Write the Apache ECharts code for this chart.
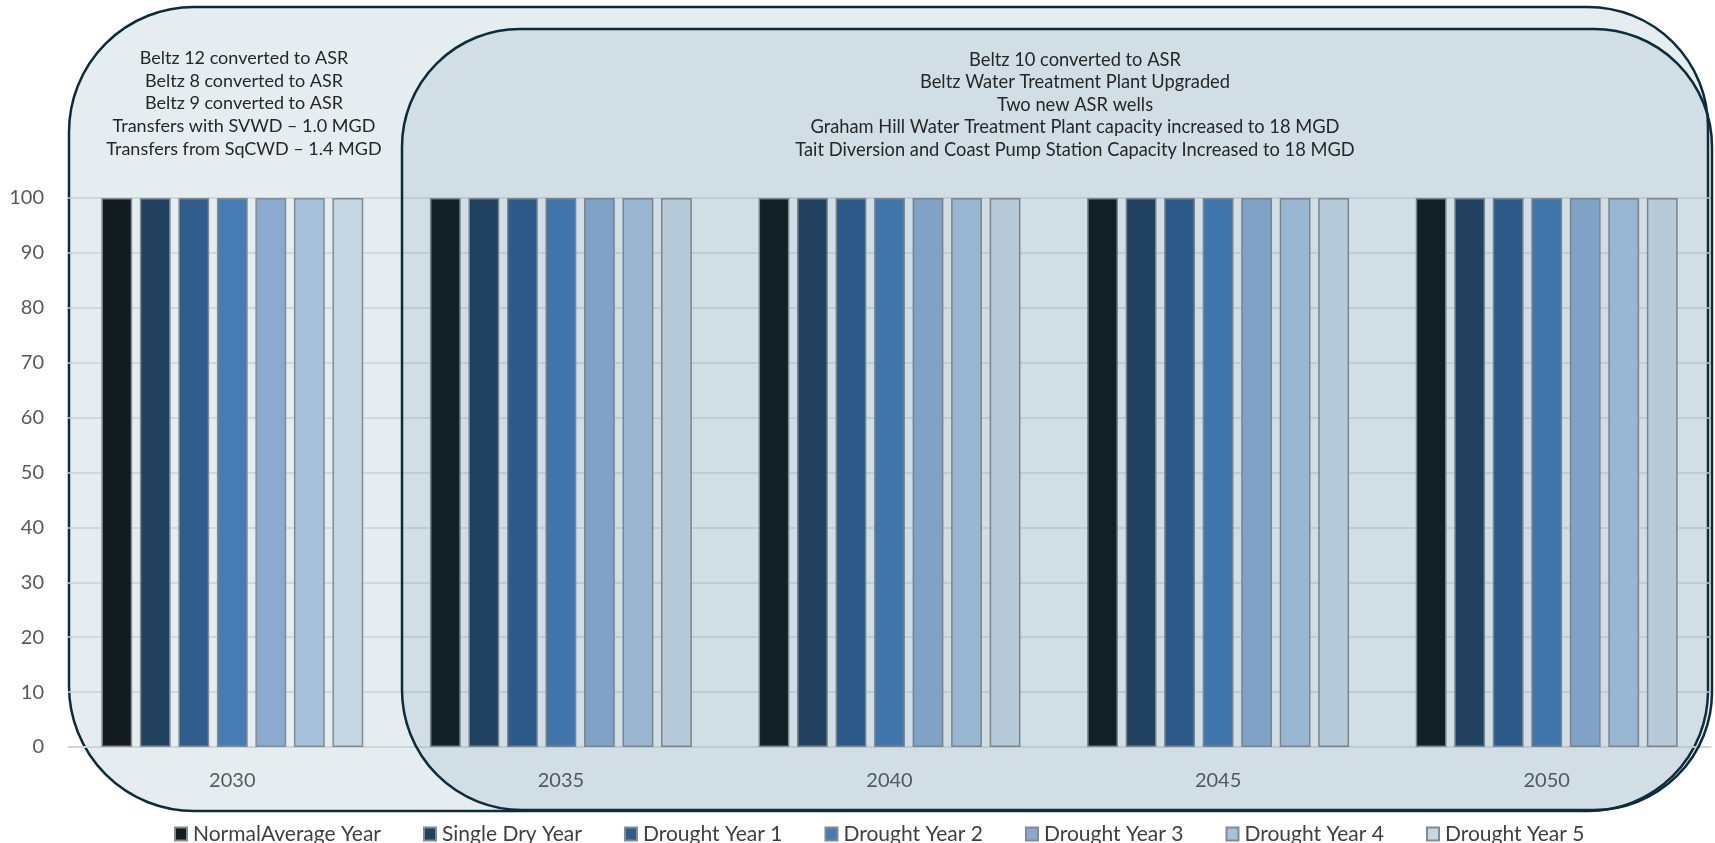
<!DOCTYPE html>
<html>
<head>
<meta charset="utf-8">
<script src="https://cdn.jsdelivr.net/npm/echarts@6/dist/echarts.min.js"></script>
<style>
  html, body { margin: 0; padding: 0; background: #ffffff; }
  #chart { width: 1715px; height: 843px; }
</style>
</head>
<body>
<div id="chart"></div>
<script>
// Planning years on the category axis
const years = ['2030', '2035', '2040', '2045', '2050'];

// Supply reliability (%) per hydrologic condition
const normalAverageYear = [100, 100, 100, 100, 100];
const singleDryYear     = [100, 100, 100, 100, 100];
const droughtYear1      = [100, 100, 100, 100, 100];
const droughtYear2      = [100, 100, 100, 100, 100];
const droughtYear3      = [100, 100, 100, 100, 100];
const droughtYear4      = [100, 100, 100, 100, 100];
const droughtYear5      = [100, 100, 100, 100, 100];

const seriesNames = [
  'NormalAverage Year', 'Single Dry Year', 'Drought Year 1', 'Drought Year 2',
  'Drought Year 3', 'Drought Year 4', 'Drought Year 5'
];
const seriesValues = [
  normalAverageYear, singleDryYear, droughtYear1, droughtYear2,
  droughtYear3, droughtYear4, droughtYear5
];

// Value axis range and step
const yMin = 0;
const yMax = 100;
const yStep = 10;

// Projects in place by 2030
const notes2030 = [
  'Beltz 12 converted to ASR',
  'Beltz 8 converted to ASR',
  'Beltz 9 converted to ASR',
  'Transfers with SVWD \u2013 1.0 MGD',
  'Transfers from SqCWD \u2013 1.4 MGD'
];
// Projects added from 2035 onward
const notesLater = [
  'Beltz 10 converted to ASR',
  'Beltz Water Treatment Plant Upgraded',
  'Two new ASR wells',
  'Graham Hill Water Treatment Plant capacity increased to 18 MGD',
  'Tait Diversion and Coast Pump Station Capacity Increased to 18 MGD'
];

const palette = ['#111B20', '#22405F', '#305C8B', '#467BB4', '#8AABCF', '#A7C1DC', '#C6D7E4'];
const FONT = 'Lato, "Open Sans", sans-serif';
const BORDER = '#0E2B3B';

const chart = echarts.init(document.getElementById('chart'), null, { renderer: 'canvas' });

const series = seriesNames.map((name, i) => ({
  name: name,
  type: 'bar',
  data: seriesValues[i],
  barGap: '25%',
  barCategoryGap: '20.3%',
  itemStyle: { color: palette[i], borderColor: '#838A90', borderWidth: 1.5 },
  emphasis: { disabled: true }
}));

chart.setOption({
  animation: false,
  backgroundColor: '#ffffff',
  color: palette,
  grid: { left: 68, right: 4, top: 198, bottom: 96, containLabel: false },
  xAxis: {
    type: 'category',
    data: years,
    axisTick: { show: false },
    axisLine: { lineStyle: { color: '#CDD3D7', width: 1.5 } },
    axisLabel: { color: '#595959', fontFamily: FONT, fontSize: 20, margin: 24 }
  },
  yAxis: {
    type: 'value',
    min: yMin,
    max: yMax,
    interval: yStep,
    axisLine: { show: false },
    axisTick: { show: false },
    splitLine: { lineStyle: { color: '#C9D0D4', width: 1.5 } },
    axisLabel: { color: '#595959', fontFamily: FONT, fontSize: 20, margin: 24 }
  },
  legend: {
    left: 169,
    top: 816,
    itemWidth: 12,
    itemHeight: 13,
    itemGap: 42,
    icon: 'rect',
    selectedMode: false,
    textStyle: { color: '#404040', fontFamily: FONT, fontSize: 21, lineHeight: 26, padding: [0, 0, 0, 1] },
    data: seriesNames
  },
  graphic: [
    {
      type: 'rect',
      z: -10,
      silent: true,
      shape: { x: 69, y: 7, width: 1639, height: 804, r: [125, 120, 120, 125] },
      style: { fill: '#E5EDF1', stroke: BORDER, lineWidth: 2.5 }
    },
    {
      type: 'rect',
      z: 50,
      silent: true,
      shape: { x: 402, y: 29, width: 1310, height: 781, r: [118, 118, 118, 120] },
      style: { fill: 'rgba(20,80,115,0.09)', stroke: BORDER, lineWidth: 2.5 }
    },
    {
      type: 'text',
      z: 60,
      silent: true,
      x: 244,
      y: 103.5,
      style: {
        text: notes2030.join('\n'),
        fill: '#262626',
        font: '18px ' + FONT,
        align: 'center',
        verticalAlign: 'middle',
        lineHeight: 22.75
      }
    },
    {
      type: 'text',
      z: 60,
      silent: true,
      x: 1075,
      y: 105,
      style: {
        text: notesLater.join('\n'),
        fill: '#262626',
        font: '18.3px ' + FONT,
        align: 'center',
        verticalAlign: 'middle',
        lineHeight: 22.5
      }
    }
  ],
  series: series
});
</script>
</body>
</html>
